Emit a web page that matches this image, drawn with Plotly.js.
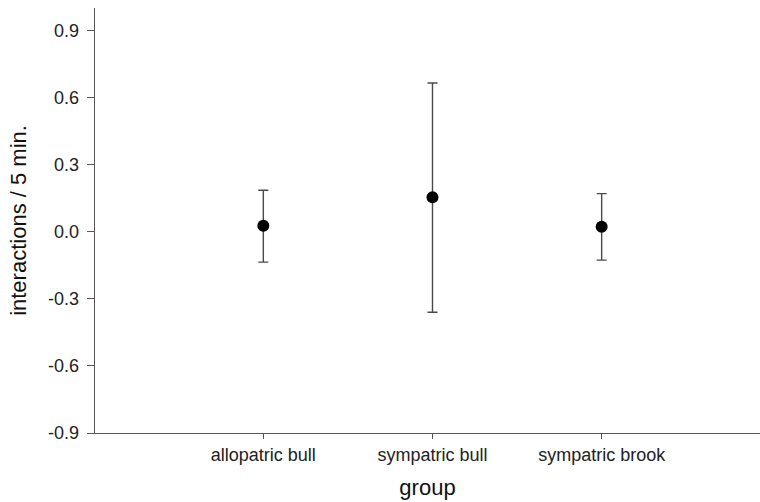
<!DOCTYPE html>
<html>
<head>
<meta charset="utf-8">
<script src="https://cdn.plot.ly/plotly-3.0.1.min.js"></script>
<style>html,body{margin:0;padding:0;background:#fff;overflow:hidden;}#chart{width:760px;height:502px;}</style>
</head>
<body>
<div id="chart"></div>
<script>
const groups = ["allopatric bull", "sympatric bull", "sympatric brook"];
const means = [0.027, 0.154, 0.022];
const upper = [0.185, 0.665, 0.170];
const lower = [-0.136, -0.360, -0.127];
const yTickVals = [-0.9, -0.6, -0.3, 0.0, 0.3, 0.6, 0.9];
const yTickText = ["-0.9", "-0.6", "-0.3", "0.0", "0.3", "0.6", "0.9"];

const errPlus = means.map((m, i) => upper[i] - m);
const errMinus = means.map((m, i) => m - lower[i]);

const font = "Liberation Sans, Arial, sans-serif";

const trace = {
  type: "scatter",
  mode: "markers",
  x: groups,
  y: means,
  marker: {color: "#000", size: 12},
  error_y: {
    type: "data",
    symmetric: false,
    array: errPlus,
    arrayminus: errMinus,
    color: "#4a4a4a",
    thickness: 1.4,
    width: 5
  },
  showlegend: false,
  hoverinfo: "none"
};

const layout = {
  width: 760,
  height: 502,
  margin: {l: 95, r: 0, t: 8, b: 69},
  paper_bgcolor: "#fff",
  plot_bgcolor: "#fff",
  font: {family: font, color: "#000", size: 18},
  xaxis: {
    type: "category",
    range: [-0.995, 2.936],
    showgrid: false,
    zeroline: false,
    showline: true,
    linecolor: "#555",
    linewidth: 1.3,
    ticks: "outside",
    ticklen: 5,
    tickcolor: "#555",
    tickfont: {family: font, size: 18, color: "#222"},
    title: {text: "group", font: {family: font, size: 22, color: "#111"}, standoff: 15}
  },
  yaxis: {
    range: [-0.9, 1.0],
    showgrid: false,
    zeroline: false,
    showline: true,
    linecolor: "#555",
    linewidth: 1.3,
    ticks: "outside",
    ticklen: 7,
    tickcolor: "#555",
    tickvals: yTickVals,
    ticktext: yTickText,
    ticklabelstandoff: 4,
    tickfont: {family: font, size: 18, color: "#222"},
    title: {text: "interactions / 5 min.", font: {family: font, size: 22, color: "#111"}, standoff: 15}
  }
};

Plotly.newPlot("chart", [trace], layout, {displayModeBar: false, staticPlot: true});
</script>
</body>
</html>
